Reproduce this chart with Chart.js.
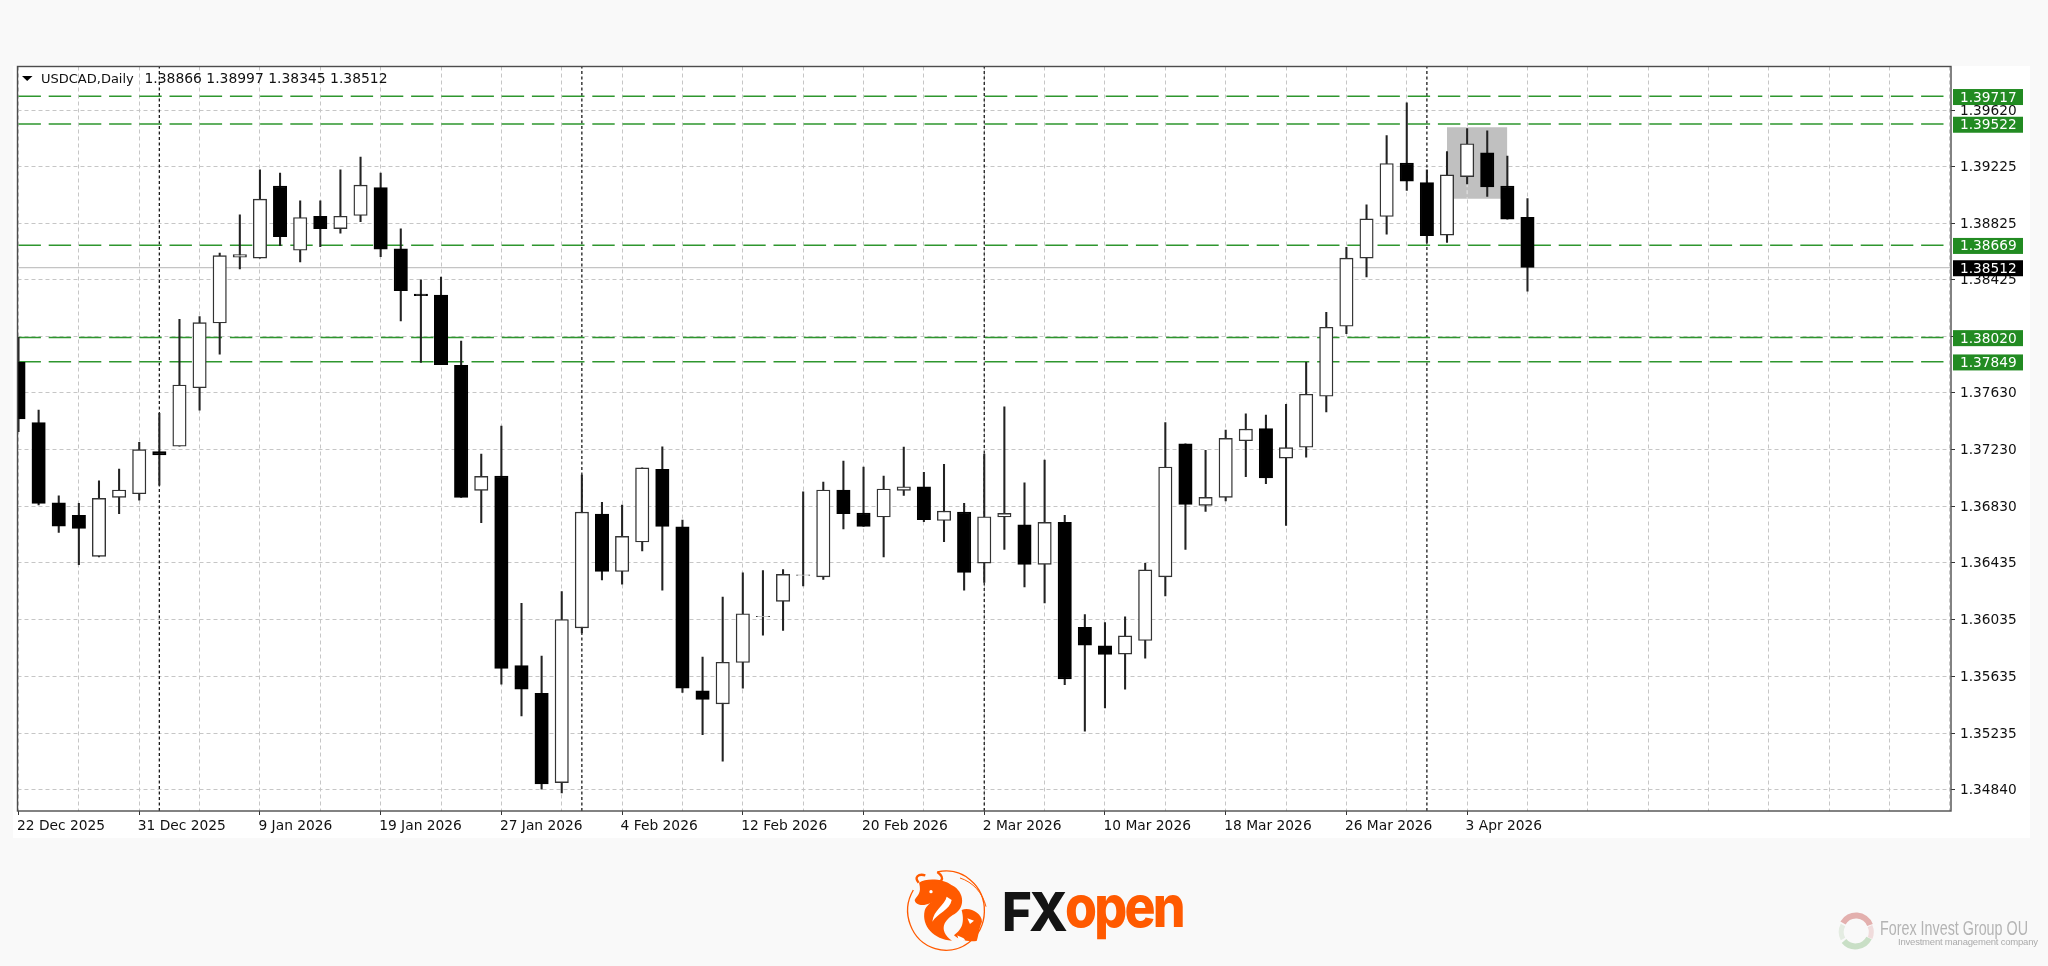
<!DOCTYPE html>
<html>
<head>
<meta charset="utf-8">
<title>USDCAD,Daily</title>
<script src="https://cdn.jsdelivr.net/npm/chart.js@4/dist/chart.umd.min.js"></script>
<style>
html, body { margin: 0; padding: 0; background: #f9f9f9; width: 2048px; height: 966px; overflow: hidden; }
#panel { position: absolute; left: 13px; top: 66px; width: 2017px; height: 772px; background: #fff; }
#chart { position: absolute; left: 0; top: 0; }
#logos { position: absolute; left: 0; top: 0; }
</style>
</head>
<body>
<div id="panel"></div>
<canvas id="chart" width="2048" height="966"></canvas>
<svg id="logos" width="2048" height="966" viewBox="0 0 2048 966">
  <g transform="translate(850 850) scale(0.3333)" fill="#ff5a00">
    <path d="M262 66 A115 119 0 1 1 190 120" fill="none" stroke="#ff5a00" stroke-width="4"/>
    <path d="M330 84 A115 119 0 0 1 408 170" fill="none" stroke="#ff5a00" stroke-width="3"/>
    <path d="M207 98 C230 82 285 88 302 104 C290 128 272 150 240 160 C218 170 196 165 194 150 C202 135 216 130 207 98Z"/>
    <path d="M206 98 C192 82 204 70 226 76 M246 96 C272 102 290 86 262 66" fill="none" stroke="#ff5a00" stroke-width="7"/>
    <path d="M298 102 C342 118 350 170 314 192 C284 208 262 240 306 272 C252 268 214 228 224 182 C234 150 286 142 298 102Z"/>
    <path d="M290 140 C285 165 250 180 247 215 C262 190 300 180 305 150Z" fill="#fff"/>
    <path d="M335 180 C360 170 396 190 396 215 C386 238 386 256 380 273 C350 276 326 270 312 256 C332 240 346 224 335 180Z"/>
    <path d="M352 205 L372 212 L360 222Z M322 256 C332 262 342 262 346 272 L326 270Z" fill="#fff"/>
    <circle cx="243" cy="125" r="5" fill="#fff"/>
  </g>
  <text x="1002" y="931" font-family="Inter" font-weight="800" font-size="54" letter-spacing="-3" fill="#141414" textLength="63" lengthAdjust="spacingAndGlyphs">FX</text>
  <text x="1065" y="927" font-family="Inter" font-weight="800" font-size="57" letter-spacing="-3" fill="#ff5a00" textLength="118" lengthAdjust="spacingAndGlyphs">open</text>

  <path d="M1843 923 A15 15 0 0 1 1870 925" fill="none" stroke="#e3b0ae" stroke-width="6"/>
  <path d="M1869 938 A15 15 0 0 1 1844 941" fill="none" stroke="#c9dfc6" stroke-width="6"/>
  <path d="M1843 925 A15 15 0 0 0 1843 939" fill="none" stroke="#e4ece2" stroke-width="5"/>
  <path d="M1870 926 A15 15 0 0 1 1870 938" fill="none" stroke="#f0dcdc" stroke-width="5"/>
  <text x="1880" y="935" font-family="Liberation Sans Narrow, Liberation Sans" font-size="21" fill="#b4b4b4" textLength="148" lengthAdjust="spacingAndGlyphs">Forex Invest Group OU</text>
  <text x="1898" y="945" font-family="Liberation Sans" font-size="9.5" fill="#ababab" textLength="140" lengthAdjust="spacing">Investment management company</text>
</svg>
<script>
'use strict';

// one entry per daily candle
let opens = [
  1.37845, 1.37420, 1.36856, 1.36768, 1.36479, 1.36894, 1.36920, 1.37216, 1.37254, 1.37666,
  1.38122, 1.38585, 1.38578, 1.39085, 1.38634, 1.38873, 1.38786, 1.38878, 1.39075, 1.38643,
  1.38326, 1.38319, 1.37824, 1.36944, 1.37044, 1.35711, 1.35516, 1.34887, 1.35976, 1.36777,
  1.36373, 1.36580, 1.37092, 1.36687, 1.35532, 1.35441, 1.35732, 1.36054, 1.36162, 1.36345,
  1.36335, 1.36946, 1.36784, 1.36756, 1.36944, 1.36969, 1.36732, 1.36791, 1.36432, 1.36756,
  1.36701, 1.36423, 1.36718, 1.35979, 1.35849, 1.35791, 1.35887, 1.36335, 1.37272, 1.36838,
  1.36894, 1.37293, 1.37378, 1.37171, 1.37247, 1.37606, 1.38099, 1.38578, 1.38871, 1.39247,
  1.39110, 1.38740, 1.39152, 1.39319, 1.39085, 1.38866
];
let highs = [
  1.38021, 1.37509, 1.36906, 1.36852, 1.37011, 1.37094, 1.37282, 1.37486, 1.38148, 1.38166,
  1.38613, 1.38883, 1.39200, 1.39176, 1.38981, 1.38981, 1.39200, 1.39289, 1.39176, 1.38784,
  1.38425, 1.38444, 1.37995, 1.37199, 1.37397, 1.36148, 1.35777, 1.36232, 1.37051, 1.36859,
  1.36840, 1.37102, 1.37251, 1.36735, 1.35770, 1.36192, 1.36363, 1.36380, 1.36387, 1.36934,
  1.37002, 1.37150, 1.37108, 1.37044, 1.37249, 1.37070, 1.37127, 1.36852, 1.37199, 1.37532,
  1.36997, 1.37157, 1.36768, 1.36070, 1.36014, 1.36053, 1.36430, 1.37420, 1.37272, 1.37225,
  1.37368, 1.37483, 1.37474, 1.37549, 1.37845, 1.38197, 1.38655, 1.38953, 1.39441, 1.39671,
  1.39200, 1.39328, 1.39490, 1.39474, 1.39296, 1.38997
];
let lows = [
  1.37356, 1.36842, 1.36648, 1.36420, 1.36475, 1.36779, 1.36875, 1.36981, 1.37254, 1.37509,
  1.37902, 1.38502, 1.38578, 1.38666, 1.38552, 1.38659, 1.38754, 1.38835, 1.38589, 1.38136,
  1.37845, 1.37828, 1.36894, 1.36716, 1.35579, 1.35356, 1.34840, 1.34814, 1.35941, 1.36314,
  1.36284, 1.36518, 1.36242, 1.35521, 1.35225, 1.35037, 1.35551, 1.35925, 1.35958, 1.36272,
  1.36317, 1.36673, 1.36690, 1.36476, 1.36908, 1.36723, 1.36582, 1.36242, 1.36296, 1.36528,
  1.36265, 1.36152, 1.35577, 1.35248, 1.35413, 1.35544, 1.35763, 1.36201, 1.36528, 1.36796,
  1.36870, 1.37040, 1.36990, 1.36697, 1.37178, 1.37495, 1.38047, 1.38446, 1.38747, 1.39054,
  1.38688, 1.38688, 1.39101, 1.39012, 1.38852, 1.38345
];
let closes = [
  1.37446, 1.36852, 1.36692, 1.36676, 1.36887, 1.36946, 1.37230, 1.37194, 1.37685, 1.38124,
  1.38596, 1.38603, 1.38993, 1.38730, 1.38864, 1.38786, 1.38873, 1.39092, 1.38641, 1.38349,
  1.38314, 1.37828, 1.36894, 1.37042, 1.35690, 1.35544, 1.34877, 1.36035, 1.36791, 1.36373,
  1.36620, 1.37102, 1.36690, 1.35551, 1.35472, 1.35734, 1.36075, 1.36058, 1.36352, 1.36349,
  1.36946, 1.36779, 1.36690, 1.36953, 1.36969, 1.36737, 1.36798, 1.36366, 1.36758, 1.36782,
  1.36423, 1.36718, 1.35617, 1.35854, 1.35789, 1.35920, 1.36384, 1.37108, 1.36845, 1.36894,
  1.37310, 1.37375, 1.37032, 1.37244, 1.37620, 1.38092, 1.38578, 1.38854, 1.39244, 1.39120,
  1.38737, 1.39164, 1.39383, 1.39080, 1.38852, 1.38512
];

let timeLabels = ['22 Dec 2025', '31 Dec 2025', '9 Jan 2026', '19 Jan 2026', '27 Jan 2026', '4 Feb 2026',
  '12 Feb 2026', '20 Feb 2026', '2 Mar 2026', '10 Mar 2026', '18 Mar 2026', '26 Mar 2026', '3 Apr 2026'];
let priceTicks = [1.39620, 1.39225, 1.38825, 1.38425, 1.38030, 1.37630, 1.37230, 1.36830, 1.36435, 1.36035, 1.35635, 1.35235, 1.34840];
let levels = [1.39717, 1.39522, 1.38669, 1.38020, 1.37849];
let lastPrice = 1.38512;
let monthStarts = [7, 28, 48, 70];
let zoneBars = [71, 74];
let zonePrices = [1.39500, 1.38997];

let barCount = 96;
let barTicks = [];
for (let i = 0; i <= barCount; i += 3){
    barTicks.push(i);
}
let priceMin = 1.34687;
let priceMax = 1.39927;
let uiFont = 'DejaVu Sans';
let textColor = '#111';
let gridColor = '#c6c6c6';
let gridDash = [4, 3];
let green = '#2e962e';

function candleRange(a, b){
    let out = [];
    for (let i = 0; i < opens.length; i++){
        out.push({x: i, y: [a[i], b[i]]});
    }
    return out;
}

function lineSet(points, color, width, dash, order){
    return {
        type: 'line',
        data: points,
        borderColor: color,
        borderWidth: width,
        borderDash: dash,
        pointRadius: 0,
        tension: 0,
        order: order
    };
}

let datasets = [];

datasets.push({
    type: 'line',
    data: [{x: zoneBars[0], y: zonePrices[0]}, {x: zoneBars[1], y: zonePrices[0]}],
    borderWidth: 0,
    pointRadius: 0,
    fill: {value: zonePrices[1]},
    backgroundColor: '#c0c0c0',
    order: 30
});
// the grid shows through the grey zone
datasets.push(lineSet([{x: zoneBars[0] + 1, y: zonePrices[0]}, {x: zoneBars[0] + 1, y: zonePrices[1]}], '#e6e6e6', 1, gridDash, 25));

for (let i = 0; i < monthStarts.length; i++){
    datasets.push(lineSet([{x: monthStarts[i], y: priceMin}, {x: monthStarts[i], y: priceMax}], '#1c1c1c', 1.3, [3, 2.5], 20));
}
for (let i = 0; i < levels.length; i++){
    datasets.push(lineSet([{x: 0, y: levels[i]}, {x: barCount, y: levels[i]}], green, 1.5, [22.4, 7.8], 15));
}
datasets.push(lineSet([{x: 0, y: lastPrice}, {x: barCount, y: lastPrice}], '#c4c4c4', 1.3, [], 14));

datasets.push({
    data: candleRange(lows, highs),
    grouped: false,
    barThickness: 1.4,
    backgroundColor: '#222',
    borderWidth: 0,
    order: 5
});
datasets.push({
    data: candleRange(opens, closes),
    grouped: false,
    barThickness: 13.4,
    backgroundColor: function(ctx){
        let i = ctx.dataIndex;
        return closes[i] >= opens[i] ? '#fff' : '#000';
    },
    borderColor: function(ctx){
        let i = ctx.dataIndex;
        return closes[i] >= opens[i] ? '#333' : '#000';
    },
    borderWidth: 1.4,
    borderSkipped: false,
    order: 1
});

// tags on the price axis, header text and the frame
let overlay = {
    id: 'overlay',
    afterDraw: function(chart){
        let c = chart.ctx;
        let area = chart.chartArea;
        let y = chart.scales.y;

        c.save();
        c.strokeStyle = '#4d4d4d';
        c.lineWidth = 1.4;
        c.strokeRect(area.left, area.top, area.right - area.left, area.bottom - area.top);

        c.font = '13.7px "' + uiFont + '"';
        c.textBaseline = 'middle';
        c.textAlign = 'left';
        for (let i = 0; i < levels.length + 1; i++){
            let isLast = i === levels.length;
            let v = isLast ? lastPrice : levels[i];
            let py = y.getPixelForValue(v) + 0.7;
            c.fillStyle = isLast ? '#000' : '#228b22';
            c.fillRect(area.right + 2, py - 8, 70, 16);
            c.fillStyle = '#fff';
            c.fillText(v.toFixed(5), area.right + 9, py + 1);
        }

        let last = opens.length - 1;
        c.fillStyle = '#000';
        c.beginPath();
        c.moveTo(22, 76);
        c.lineTo(32.5, 76);
        c.lineTo(27.2, 81);
        c.closePath();
        c.fill();

        c.fillStyle = textColor;
        c.font = '13px "' + uiFont + '"';
        c.fillText('USDCAD,Daily', 41, 79.7);
        c.font = '13.9px "' + uiFont + '"';
        c.fillText([opens[last], highs[last], lows[last], closes[last]].map(v => v.toFixed(5)).join(' '), 144.5, 79.7);
        c.restore();
    }
};

let chart = new Chart(document.getElementById('chart').getContext('2d'), {
    type: 'bar',
    data: {datasets: datasets},
    plugins: [overlay],
    options: {
        responsive: false,
        animation: false,
        events: [],
        layout: {autoPadding: false, padding: {left: 17.5, top: 66.5, right: 0, bottom: 0}},
        plugins: {legend: {display: false}, tooltip: {enabled: false}, title: {display: false}},
        scales: {
            x: {
                type: 'linear',
                min: -0.05,
                max: barCount + 0.05,
                offset: false,
                afterFit: function(scale){ scale.height = 966 - 811; },
                afterBuildTicks: function(scale){
                    scale.ticks = barTicks.map(v => ({value: v}));
                },
                border: {display: false, dash: gridDash},
                grid: {
                    offset: false,
                    color: gridColor,
                    lineWidth: 1,
                    tickLength: 4,
                    tickColor: function(ctx){
                        let v = ctx.tick ? ctx.tick.value : 1;
                        return v % 6 === 0 && v / 6 < timeLabels.length ? '#333' : 'rgba(0,0,0,0)';
                    }
                },
                ticks: {
                    autoSkip: false,
                    maxRotation: 0,
                    align: 'start',
                    labelOffset: -1.5,
                    padding: 3,
                    color: textColor,
                    font: {family: uiFont, size: 13.8},
                    callback: function(v){
                        return v % 6 === 0 && v / 6 < timeLabels.length ? timeLabels[v / 6] : '';
                    }
                }
            },
            y: {
                position: 'right',
                min: priceMin,
                max: priceMax,
                afterFit: function(scale){ scale.width = 2048 - 1951; },
                afterBuildTicks: function(scale){
                    scale.ticks = priceTicks.map(v => ({value: v}));
                },
                border: {display: false, dash: gridDash},
                grid: {color: gridColor, lineWidth: 1, tickLength: 4, tickColor: '#333'},
                ticks: {
                    autoSkip: false,
                    padding: 5,
                    labelOffset: 1,
                    color: textColor,
                    font: {family: uiFont, size: 13.7},
                    callback: function(v){ return v.toFixed(5); }
                }
            }
        }
    }
});
</script>
</body>
</html>
